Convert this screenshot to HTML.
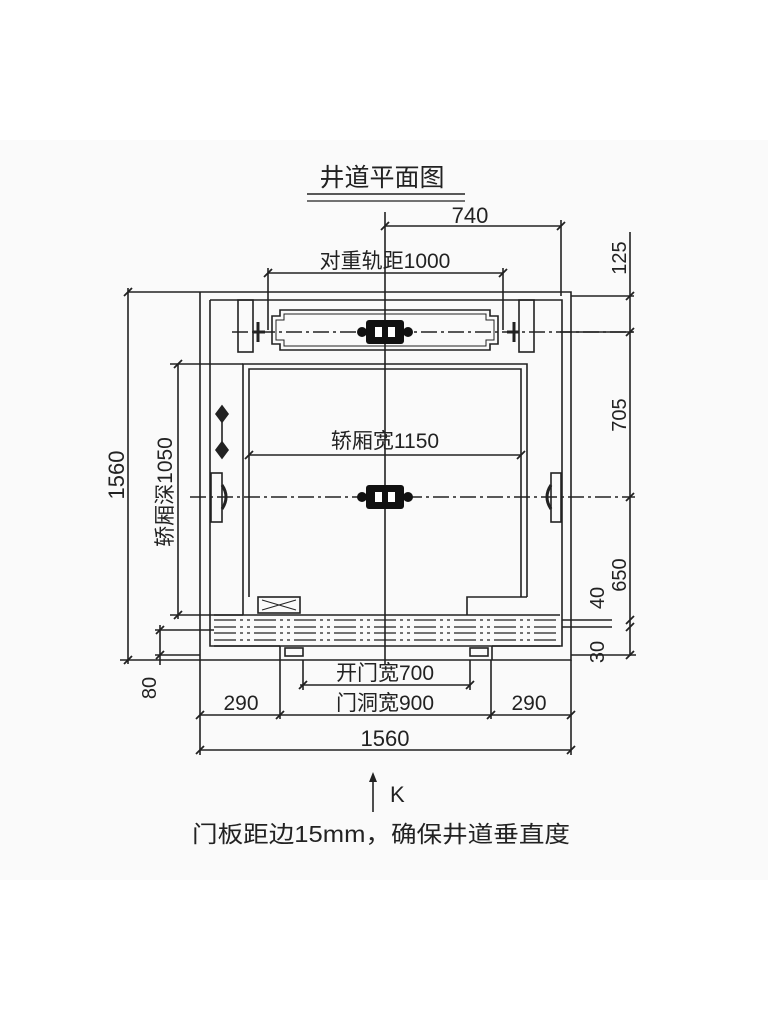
<!DOCTYPE html>
<html><head><meta charset="utf-8"><style>
html,body{margin:0;padding:0;background:#fff;}
svg{display:block;}
text{font-family:"Liberation Sans","Noto Sans CJK SC",sans-serif;fill:#222;}
</style></head><body>
<svg width="768" height="1024" viewBox="0 0 768 1024" xmlns="http://www.w3.org/2000/svg">
<rect x="0" y="140" width="768" height="740" fill="#fafafa"/>
<g stroke="#222" stroke-width="1.6" fill="none">
<!-- title underline -->
<line x1="307" y1="194" x2="465" y2="194"/><line x1="307" y1="201" x2="465" y2="201" stroke-width="1.2"/>
<!-- shaft walls -->
<path d="M128 292 H571 V660 H200 V292"/>
<path d="M210 300 H562 V646 H492 M280 646 H210 V300"/>
<!-- door opening / jambs -->
<path d="M280 646 V660 M492 646 V660"/>
<rect x="285" y="648" width="18" height="8"/><rect x="470" y="648" width="18" height="8"/>
<!-- CW brackets -->
<rect x="238" y="300" width="15" height="52"/><rect x="519" y="300" width="15" height="52"/>
<!-- CW frame -->
<path d="M280 310 H490 V316 H498 V344 H490 V350 H280 V344 H272 V316 H280 Z"/>
<path d="M284 314 H486 V320 H494 V340 H486 V346 H284 V340 H276 V320 H284 Z" stroke-width="1"/>
<!-- center lines -->
<line x1="232" y1="332" x2="637" y2="332" stroke-dasharray="16 4 3 4"/>
<line x1="385" y1="212" x2="385" y2="665"/>
<line x1="190" y1="497" x2="635" y2="497" stroke-dasharray="16 4 3 4"/>
<!-- rail stubs -->
<path d="M253 332 H265 M258 322 V342 M519 332 H507 M514 322 V342" stroke-width="3"/>
<!-- car -->
<path d="M243 615 V364 H527 V597"/>
<path d="M249 597 V369 H521 V597"/>
<rect x="258" y="597" width="42" height="16"/>
<path d="M262 600 L296 610 M262 610 L296 600" stroke-width="1"/>
<path d="M467 615 V597 H527"/>
<!-- sill lines -->
<g stroke-dasharray="22 4 3 4 3 4" stroke-width="1.3">
<line x1="214" y1="620" x2="560" y2="620"/><line x1="214" y1="627" x2="560" y2="627"/>
<line x1="214" y1="633" x2="560" y2="633"/><line x1="214" y1="640" x2="560" y2="640"/>
</g>
<line x1="214" y1="615" x2="560" y2="615"/><line x1="214" y1="646" x2="560" y2="646"/>
<!-- car side brackets -->
<rect x="211" y="473" width="11" height="49"/><rect x="551" y="473" width="10" height="49"/>
<path d="M222 485 Q230 497 222 509 M551 485 Q543 497 551 509" stroke-width="3"/>
<!-- small buffer item -->
<line x1="222" y1="408" x2="222" y2="455"/>
<path d="M216 414 L222 406 L228 414 L222 422 Z M216 450 L222 442 L228 450 L222 458 Z" fill="#222"/>
<!-- dims top -->
<line x1="385" y1="226" x2="561" y2="226"/><line x1="561" y1="220" x2="561" y2="296"/>
<line x1="268" y1="273" x2="503" y2="273"/><line x1="268" y1="268" x2="268" y2="330"/><line x1="503" y1="268" x2="503" y2="330"/>
<!-- right dims -->
<line x1="630" y1="232" x2="630" y2="656"/>
<line x1="571" y1="296" x2="634" y2="296"/><line x1="560" y1="332" x2="634" y2="332"/>
<line x1="562" y1="620" x2="612" y2="620"/><line x1="562" y1="627" x2="612" y2="627"/><line x1="571" y1="655" x2="636" y2="655"/>
<!-- car width dim -->
<line x1="249" y1="455" x2="521" y2="455"/>
<!-- left dims -->
<line x1="128" y1="288" x2="128" y2="664"/><line x1="120" y1="660" x2="200" y2="660"/>
<line x1="178" y1="364" x2="178" y2="619"/><line x1="170" y1="364" x2="243" y2="364"/><line x1="170" y1="615" x2="243" y2="615"/>
<line x1="160" y1="625" x2="160" y2="665"/><line x1="155" y1="630" x2="214" y2="630"/><line x1="155" y1="655" x2="200" y2="655"/>
<!-- bottom dims -->
<line x1="300" y1="685" x2="470" y2="685"/><line x1="303" y1="660" x2="303" y2="690"/><line x1="470" y1="660" x2="470" y2="690"/>
<line x1="200" y1="715" x2="571" y2="715"/>
<line x1="280" y1="660" x2="280" y2="719"/><line x1="491" y1="660" x2="491" y2="719"/>
<line x1="200" y1="660" x2="200" y2="755"/><line x1="571" y1="660" x2="571" y2="755"/>
<line x1="200" y1="750" x2="571" y2="750"/>
<!-- ticks -->
<g stroke-width="1.8">
<path d="M381 230 L389 222 M557 230 L565 222 M264 277 L272 269 M499 277 L507 269"/>
<path d="M626 300 L634 292 M626 336 L634 328 M626 501 L634 493 M626 624 L634 616 M626 631 L634 623 M626 659 L634 651"/>
<path d="M245 459 L253 451 M517 459 L525 451"/>
<path d="M124 296 L132 288 M124 664 L132 656 M174 368 L182 360 M174 619 L182 611 M156 634 L164 626 M156 659 L164 651"/>
<path d="M299 689 L307 681 M466 689 L474 681"/>
<path d="M196 719 L204 711 M276 719 L284 711 M487 719 L495 711 M567 719 L575 711 M196 754 L204 746 M567 754 L575 746"/>
</g>
<!-- K arrow -->
<line x1="373" y1="778" x2="373" y2="812"/>
</g>
<!-- hardware blobs -->
<g fill="#111">
<rect x="366" y="320" width="38" height="24" rx="3"/><circle cx="362" cy="332" r="5"/><circle cx="408" cy="332" r="5"/>
<rect x="366" y="485" width="38" height="24" rx="3"/><circle cx="362" cy="497" r="5"/><circle cx="408" cy="497" r="5"/>
</g>
<g fill="#fff"><rect x="375" y="327" width="7" height="10"/><rect x="388" y="327" width="7" height="10"/>
<rect x="375" y="492" width="7" height="10"/><rect x="388" y="492" width="7" height="10"/></g>
<path d="M369 782 L373 772 L377 782 Z" fill="#222"/>
<!-- texts -->
<text x="382" y="186" font-size="25" text-anchor="middle">井道平面图</text>
<text x="470" y="223" font-size="22" text-anchor="middle">740</text>
<text x="385" y="268" font-size="21" text-anchor="middle">对重轨距1000</text>
<text x="385" y="448" font-size="21" text-anchor="middle">轿厢宽1150</text>
<text x="385" y="680" font-size="21" text-anchor="middle">开门宽700</text>
<text x="385" y="710" font-size="21" text-anchor="middle">门洞宽900</text>
<text x="241" y="710" font-size="21" text-anchor="middle">290</text>
<text x="529" y="710" font-size="21" text-anchor="middle">290</text>
<text x="385" y="746" font-size="22" text-anchor="middle">1560</text>
<text font-size="22" text-anchor="middle" transform="translate(124 475) rotate(-90)">1560</text>
<text font-size="21" text-anchor="middle" transform="translate(172 492) rotate(-90)">轿厢深1050</text>
<text font-size="20" text-anchor="middle" transform="translate(156 688) rotate(-90)">80</text>
<text font-size="20" text-anchor="middle" transform="translate(626 258) rotate(-90)">125</text>
<text font-size="20" text-anchor="middle" transform="translate(626 415) rotate(-90)">705</text>
<text font-size="20" text-anchor="middle" transform="translate(626 575) rotate(-90)">650</text>
<text font-size="20" text-anchor="middle" transform="translate(604 598) rotate(-90)">40</text>
<text font-size="20" text-anchor="middle" transform="translate(604 652) rotate(-90)">30</text>
<text x="390" y="802" font-size="22">K</text>
<text x="192" y="842" font-size="23" textLength="378" lengthAdjust="spacingAndGlyphs">门板距边15mm，确保井道垂直度</text>
</svg>
</body></html>
